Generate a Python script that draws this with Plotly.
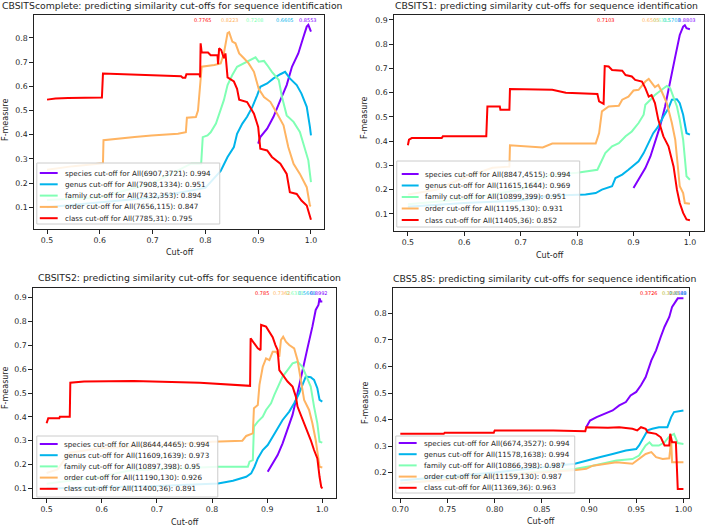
import plotly.graph_objects as go

W, H = 709, 527

# ---------------- data ----------------
SERIES = ["species", "genus", "family", "order", "class"]
COLORS = ["#8000ff", "#00b4eb", "#80ffb4", "#ffb462", "#ff0000"]

TITLES = [
    "CBSITScomplete: predicting similarity cut-offs for sequence identification",
    "CBSITS1: predicting similarity cut-offs for sequence identification",
    "CBSITS2: predicting similarity cut-offs for sequence identification",
    "CBS5.8S: predicting similarity cut-offs for sequence identification",
]

LEG1 = ["species cut-off for All(6907,3721): 0.994", "genus cut-off for All(7908,1334): 0.951",
        "family cut-off for All(7432,353): 0.894", "order cut-off for All(7656,115): 0.847",
        "class cut-off for All(7785,31): 0.795"]
LEG2 = ["species cut-off for All(8847,4515): 0.994", "genus cut-off for All(11615,1644): 0.969",
        "family cut-off for All(10899,399): 0.951", "order cut-off for All(11195,130): 0.931",
        "class cut-off for All(11405,36): 0.852"]
LEG3 = ["species cut-off for All(8644,4465): 0.994", "genus cut-off for All(11609,1639): 0.973",
        "family cut-off for All(10897,398): 0.95", "order cut-off for All(11190,130): 0.926",
        "class cut-off for All(11400,36): 0.891"]
LEG4 = ["species cut-off for All(6674,3527): 0.994", "genus cut-off for All(11578,1638): 0.994",
        "family cut-off for All(10866,398): 0.987", "order cut-off for All(11159,130): 0.987",
        "class cut-off for All(11369,36): 0.963"]

# best cut-off and max F-measure (labels at top)
BEST_X1 = [0.994, 0.951, 0.894, 0.847, 0.795]
BEST_F1 = ["0.8553", "0.6605", "0.7208", "0.8223", "0.7765"]
BEST_X2 = [0.994, 0.969, 0.951, 0.931, 0.852]
BEST_F2 = ["0.8803", "0.5703", "0.6315", "0.6505", "0.7103"]
BEST_X3 = [0.994, 0.973, 0.95, 0.926, 0.891]
BEST_F3 = ["0.8992", "0.5668", "0.6313", "0.7362", "0.785"]
BEST_X4 = [0.994, 0.994, 0.987, 0.987, 0.963]
BEST_F4 = ["0.8589", "0.4348", "0.3469", "0.3203", "0.3726"]

# ---- panel 1: CBSITScomplete ----
P1_SPECIES_X = [0.9, 0.904, 0.917, 0.929, 0.942, 0.954, 0.964, 0.976, 0.986, 0.992, 0.995, 0.998, 1.0]
P1_SPECIES_Y = [0.363, 0.39, 0.425, 0.474, 0.543, 0.605, 0.681, 0.736, 0.806, 0.847, 0.854, 0.84, 0.826]
P1_GENUS_X = [0.5, 0.6, 0.7, 0.8, 0.829, 0.842, 0.854, 0.86, 0.87, 0.879, 0.889, 0.898, 0.904, 0.917,
              0.929, 0.942, 0.951, 0.96, 0.973, 0.982, 0.992, 0.998, 1.0]
P1_GENUS_Y = [0.1, 0.12, 0.14, 0.18, 0.25, 0.308, 0.349, 0.404, 0.446, 0.474, 0.515, 0.563, 0.598, 0.612,
              0.633, 0.65, 0.66, 0.633, 0.605, 0.57, 0.515, 0.432, 0.397]
P1_FAMILY_X = [0.5, 0.6, 0.7, 0.773, 0.792, 0.795, 0.804, 0.81, 0.82, 0.829, 0.835, 0.842, 0.851, 0.86,
               0.873, 0.885, 0.895, 0.901, 0.911, 0.917, 0.926, 0.939, 0.945, 0.954, 0.967, 0.979,
               0.988, 0.995, 1.0]
P1_FAMILY_Y = [0.13, 0.14, 0.2, 0.28, 0.28, 0.39, 0.397, 0.41, 0.446, 0.5, 0.543, 0.605, 0.647, 0.681,
               0.695, 0.709, 0.72, 0.702, 0.705, 0.688, 0.66, 0.626, 0.557, 0.48, 0.453, 0.411,
               0.349, 0.294, 0.204]
P1_ORDER_X = [0.5, 0.55, 0.606, 0.607, 0.666, 0.698, 0.748, 0.763, 0.765, 0.782, 0.786, 0.79, 0.793,
              0.817, 0.829, 0.835, 0.842, 0.845, 0.851, 0.857, 0.864, 0.873, 0.882, 0.892, 0.901,
              0.911, 0.923, 0.936, 0.948, 0.957, 0.967, 0.979, 0.992, 0.998, 1.0]
P1_ORDER_Y = [0.255, 0.27, 0.282, 0.377, 0.39, 0.397, 0.404, 0.41, 0.47, 0.473, 0.5, 0.619, 0.681,
              0.688, 0.695, 0.736, 0.82, 0.824, 0.785, 0.778, 0.736, 0.716, 0.695, 0.66, 0.59,
              0.556, 0.536, 0.487, 0.439, 0.349, 0.28, 0.238, 0.183, 0.107, 0.105]
P1_CLASS_X = [0.5, 0.516, 0.54, 0.573, 0.604, 0.606, 0.698, 0.754, 0.757, 0.762, 0.764, 0.789, 0.79,
              0.791, 0.793, 0.805, 0.81, 0.823, 0.824, 0.826, 0.83, 0.835, 0.838, 0.842, 0.854,
              0.86, 0.864, 0.879, 0.892, 0.9, 0.904, 0.917, 0.926, 0.942, 0.954, 0.96, 0.973,
              0.982, 0.992, 0.998, 1.0]
P1_CLASS_Y = [0.545, 0.55, 0.552, 0.554, 0.554, 0.653, 0.648, 0.642, 0.636, 0.636, 0.65, 0.65, 0.637,
              0.778, 0.74, 0.74, 0.729, 0.729, 0.692, 0.757, 0.75, 0.716, 0.736, 0.637, 0.62,
              0.59, 0.545, 0.535, 0.487, 0.432, 0.342, 0.335, 0.308, 0.28, 0.238, 0.162, 0.155,
              0.128, 0.107, 0.059, 0.048]

# ---- panel 2: CBSITS1 ----
P2_SPECIES_X = [0.9, 0.909, 0.921, 0.93, 0.938, 0.947, 0.956, 0.965, 0.974, 0.982, 0.988, 0.991, 0.994, 1.0]
P2_SPECIES_Y = [0.207, 0.241, 0.289, 0.337, 0.392, 0.461, 0.543, 0.639, 0.749, 0.838, 0.873, 0.878, 0.866, 0.862]
P2_GENUS_X = [0.5, 0.6, 0.7, 0.75, 0.815, 0.833, 0.844, 0.862, 0.868, 0.88, 0.891, 0.903, 0.909, 0.918,
              0.927, 0.935, 0.944, 0.953, 0.962, 0.968, 0.977, 0.982, 0.988, 0.994, 1.0]
P2_GENUS_Y = [0.13, 0.145, 0.155, 0.175, 0.18, 0.186, 0.2, 0.214, 0.248, 0.262, 0.282, 0.303, 0.317, 0.351,
              0.392, 0.433, 0.461, 0.502, 0.536, 0.571, 0.573, 0.557, 0.509, 0.433, 0.427]
P2_FAMILY_X = [0.5, 0.6, 0.7, 0.75, 0.8, 0.836, 0.85, 0.862, 0.874, 0.886, 0.897, 0.909, 0.918, 0.921,
               0.93, 0.938, 0.95, 0.959, 0.965, 0.971, 0.977, 0.982, 0.988, 0.994, 1.0]
P2_FAMILY_Y = [0.14, 0.16, 0.2, 0.26, 0.27, 0.282, 0.351, 0.379, 0.392, 0.42, 0.44, 0.475, 0.509, 0.55,
               0.571, 0.591, 0.612, 0.628, 0.619, 0.584, 0.543, 0.488, 0.406, 0.255, 0.241]
P2_ORDER_X = [0.5, 0.55, 0.6, 0.64, 0.65, 0.68, 0.681, 0.739, 0.756, 0.833, 0.839, 0.844, 0.856, 0.874,
              0.88, 0.891, 0.9, 0.909, 0.921, 0.927, 0.933, 0.938, 0.944, 0.95, 0.959, 0.968, 0.974,
              0.979, 0.982, 0.988, 0.991, 1.0]
P2_ORDER_Y = [0.18, 0.2, 0.25, 0.28, 0.29, 0.295, 0.383, 0.374, 0.39, 0.39, 0.433, 0.523, 0.543, 0.546,
              0.571, 0.584, 0.609, 0.612, 0.646, 0.657, 0.639, 0.623, 0.632, 0.605, 0.557, 0.475, 0.406,
              0.296, 0.214, 0.186, 0.145, 0.142]
P2_CLASS_X = [0.5, 0.502, 0.507, 0.56, 0.562, 0.639, 0.641, 0.663, 0.664, 0.68, 0.681, 0.756, 0.78,
              0.815, 0.836, 0.839, 0.847, 0.849, 0.856, 0.862, 0.88, 0.886, 0.897, 0.903, 0.915,
              0.921, 0.927, 0.932, 0.938, 0.944, 0.953, 0.962, 0.971, 0.977, 0.982, 0.988, 0.994, 1.0]
P2_CLASS_Y = [0.383, 0.406, 0.413, 0.413, 0.42, 0.42, 0.543, 0.543, 0.53, 0.53, 0.615, 0.612, 0.6,
              0.598, 0.595, 0.564, 0.554, 0.71, 0.708, 0.694, 0.691, 0.673, 0.667, 0.653, 0.646,
              0.619, 0.584, 0.59, 0.557, 0.488, 0.42, 0.379, 0.296, 0.2, 0.145, 0.104, 0.077, 0.074]

# ---- panel 3: CBSITS2 ----
P3_SPECIES_X = [0.901, 0.91, 0.919, 0.928, 0.937, 0.946, 0.955, 0.964, 0.973, 0.982, 0.988, 0.993, 0.995, 0.997, 1.0]
P3_SPECIES_Y = [0.17, 0.205, 0.24, 0.289, 0.345, 0.408, 0.499, 0.597, 0.687, 0.778, 0.848, 0.869, 0.897, 0.883, 0.883]
P3_GENUS_X = [0.5, 0.7, 0.811, 0.838, 0.862, 0.871, 0.877, 0.883, 0.892, 0.901, 0.91, 0.919, 0.928,
              0.94, 0.949, 0.958, 0.964, 0.97, 0.979, 0.985, 0.991, 0.995, 1.0]
P3_GENUS_Y = [0.1, 0.11, 0.121, 0.132, 0.149, 0.163, 0.191, 0.226, 0.261, 0.282, 0.317, 0.352, 0.387,
              0.422, 0.457, 0.499, 0.534, 0.569, 0.566, 0.555, 0.52, 0.471, 0.464]
P3_FAMILY_X = [0.5, 0.6, 0.65, 0.75, 0.81, 0.865, 0.868, 0.874, 0.876, 0.883, 0.892, 0.898, 0.907,
               0.913, 0.922, 0.928, 0.937, 0.946, 0.955, 0.964, 0.97, 0.979, 0.985, 0.991, 0.995, 1.0]
P3_FAMILY_Y = [0.12, 0.15, 0.175, 0.185, 0.191, 0.191, 0.212, 0.219, 0.359, 0.38, 0.401, 0.429, 0.457,
               0.492, 0.534, 0.569, 0.596, 0.624, 0.631, 0.61, 0.576, 0.527, 0.443, 0.373, 0.296, 0.292]
P3_ORDER_X = [0.5, 0.52, 0.541, 0.6, 0.7, 0.8, 0.855, 0.862, 0.874, 0.876, 0.883, 0.886, 0.892, 0.898,
              0.904, 0.91, 0.916, 0.922, 0.925, 0.929, 0.934, 0.94, 0.949, 0.955, 0.961, 0.967,
              0.976, 0.982, 0.988, 0.993, 0.995, 1.0]
P3_ORDER_Y = [0.165, 0.18, 0.25, 0.27, 0.28, 0.296, 0.3, 0.32, 0.331, 0.436, 0.45, 0.534, 0.61, 0.645,
              0.638, 0.673, 0.673, 0.652, 0.722, 0.736, 0.715, 0.701, 0.687, 0.638, 0.555, 0.471,
              0.429, 0.373, 0.303, 0.233, 0.191, 0.188]
P3_CLASS_X = [0.5, 0.503, 0.523, 0.524, 0.542, 0.543, 0.568, 0.658, 0.778, 0.85, 0.869, 0.87, 0.877,
              0.883, 0.888, 0.889, 0.898, 0.904, 0.91, 0.915, 0.919, 0.922, 0.928, 0.937, 0.946,
              0.952, 0.955, 0.961, 0.97, 0.979, 0.985, 0.991, 0.995, 0.998, 1.0]
P3_CLASS_Y = [0.373, 0.394, 0.394, 0.4, 0.4, 0.543, 0.548, 0.55, 0.543, 0.534, 0.53, 0.729, 0.708,
              0.687, 0.68, 0.785, 0.778, 0.757, 0.734, 0.701, 0.68, 0.596, 0.576, 0.548, 0.527,
              0.485, 0.443, 0.408, 0.359, 0.303, 0.261, 0.226, 0.149, 0.107, 0.1]

# ---- panel 4: CBS5.8S ----
P4_SPECIES_X = [0.897, 0.901, 0.908, 0.918, 0.925, 0.932, 0.939, 0.944, 0.95, 0.955, 0.96, 0.966,
                0.971, 0.976, 0.98, 0.985, 0.988, 0.994, 1.0]
P4_SPECIES_Y = [0.371, 0.396, 0.409, 0.422, 0.434, 0.453, 0.466, 0.491, 0.504, 0.529, 0.56, 0.623,
                0.661, 0.712, 0.75, 0.787, 0.825, 0.857, 0.857]
P4_GENUS_X = [0.7, 0.8, 0.885, 0.897, 0.911, 0.925, 0.939, 0.95, 0.953, 0.959, 0.962, 0.967, 0.974,
              0.983, 0.987, 0.99, 0.995, 1.0]
P4_GENUS_Y = [0.17, 0.2, 0.233, 0.245, 0.258, 0.27, 0.283, 0.289, 0.302, 0.34, 0.359, 0.365, 0.371,
              0.371, 0.409, 0.428, 0.432, 0.434]
P4_FAMILY_X = [0.7, 0.8, 0.886, 0.904, 0.929, 0.946, 0.953, 0.96, 0.964, 0.967, 0.974, 0.98, 0.985,
               0.99, 0.994, 1.0]
P4_FAMILY_Y = [0.16, 0.19, 0.214, 0.226, 0.245, 0.251, 0.264, 0.302, 0.314, 0.302, 0.302, 0.314, 0.336,
               0.346, 0.311, 0.308]
P4_ORDER_X = [0.7, 0.8, 0.85, 0.886, 0.897, 0.904, 0.918, 0.929, 0.946, 0.953, 0.96, 0.966, 0.971,
              0.978, 0.985, 0.987, 0.988, 1.0]
P4_ORDER_Y = [0.16, 0.185, 0.2, 0.21, 0.214, 0.226, 0.233, 0.239, 0.233, 0.251, 0.27, 0.277, 0.258,
              0.251, 0.254, 0.321, 0.239, 0.239]
P4_CLASS_X = [0.7, 0.746, 0.747, 0.799, 0.8, 0.862, 0.896, 0.897, 0.92, 0.932, 0.946, 0.951, 0.955,
              0.96, 0.962, 0.971, 0.976, 0.98, 0.985, 0.986, 0.987, 0.988, 0.992, 0.994, 1.0]
P4_CLASS_Y = [0.346, 0.346, 0.35, 0.35, 0.359, 0.359, 0.356, 0.371, 0.369, 0.371, 0.365, 0.359, 0.371,
              0.365, 0.352, 0.346, 0.333, 0.302, 0.302, 0.346, 0.33, 0.314, 0.314, 0.138, 0.138]

PANELS = [
    dict(xs=[P1_SPECIES_X, P1_GENUS_X, P1_FAMILY_X, P1_ORDER_X, P1_CLASS_X],
         ys=[P1_SPECIES_Y, P1_GENUS_Y, P1_FAMILY_Y, P1_ORDER_Y, P1_CLASS_Y],
         leg=LEG1, bx=BEST_X1, bf=BEST_F1),
    dict(xs=[P2_SPECIES_X, P2_GENUS_X, P2_FAMILY_X, P2_ORDER_X, P2_CLASS_X],
         ys=[P2_SPECIES_Y, P2_GENUS_Y, P2_FAMILY_Y, P2_ORDER_Y, P2_CLASS_Y],
         leg=LEG2, bx=BEST_X2, bf=BEST_F2),
    dict(xs=[P3_SPECIES_X, P3_GENUS_X, P3_FAMILY_X, P3_ORDER_X, P3_CLASS_X],
         ys=[P3_SPECIES_Y, P3_GENUS_Y, P3_FAMILY_Y, P3_ORDER_Y, P3_CLASS_Y],
         leg=LEG3, bx=BEST_X3, bf=BEST_F3),
    dict(xs=[P4_SPECIES_X, P4_GENUS_X, P4_FAMILY_X, P4_ORDER_X, P4_CLASS_X],
         ys=[P4_SPECIES_Y, P4_GENUS_Y, P4_FAMILY_Y, P4_ORDER_Y, P4_CLASS_Y],
         leg=LEG4, bx=BEST_X4, bf=BEST_F4),
]

# ---------------- layout (pixel geometry) ----------------
def px(x):
    return x / W

def py(y):
    return 1 - y / H

BOX = [(33, 325, 15, 229), (395, 707, 15, 231), (32, 337, 288, 498), (394, 692, 288, 498)]
XR = [[0.475, 1.025], [0.475, 1.025], [0.475, 1.025], [0.692, 1.006]]
YR = [[0.01, 0.895], [0.0295, 0.9205], [0.06, 0.94], [0.104, 0.896]]
XT = [[0.5, 0.6, 0.7, 0.8, 0.9, 1.0]] * 3 + [[0.70, 0.75, 0.80, 0.85, 0.90, 0.95, 1.00]]
XFMT = [".1f", ".1f", ".1f", ".2f"]
YT = [[0.1, 0.2, 0.3, 0.4, 0.5, 0.6, 0.7, 0.8],
      [0.1, 0.2, 0.3, 0.4, 0.5, 0.6, 0.7, 0.8, 0.9],
      [0.1, 0.2, 0.3, 0.4, 0.5, 0.6, 0.7, 0.8, 0.9],
      [0.1, 0.2, 0.3, 0.4, 0.5, 0.6, 0.7, 0.8]]
TITLE_POS = [(172, 5), (549, 5), (190, 277), (547, 278)]
XLAB_POS = [(180, 252), (552, 255), (185, 522), (543, 521)]
YLAB_POS = [(5, 120), (366, 118), (4, 388), (366, 403)]
# legend box (x0, x1, y0, y1), line x0, x1, text x, first row y, row step
LEG_POS = [(36, 220, 163, 224, 39, 57, 62, 173, 11.3),
           (398, 582, 161, 227, 403, 420, 424, 174, 11.5),
           (36, 218, 436, 497, 39, 57, 61, 444, 11.2),
           (397, 577, 436, 493, 400, 418, 423, 443, 11.2)]

FONT = "DejaVu Sans"
TXT = "#262626"

fig = go.Figure()
shapes = []
annotations = []
layout = dict(width=W, height=H, margin=dict(l=0, r=0, t=0, b=0),
              paper_bgcolor="white", plot_bgcolor="white", showlegend=False,
              font=dict(family=FONT, size=7.8, color=TXT))

for i, p in enumerate(PANELS):
    k = "" if i == 0 else str(i + 1)
    xa, ya = "x" + k, "y" + k
    for s in range(5):
        fig.add_trace(go.Scatter(x=p["xs"][s], y=p["ys"][s], mode="lines", name=SERIES[s],
                                 line=dict(color=COLORS[s], width=2), xaxis=xa, yaxis=ya))
    x0, x1, y0, y1 = BOX[i]
    axis_common = dict(showline=True, mirror=True, linecolor="#222", linewidth=1,
                       ticks="outside", ticklen=3.5, tickwidth=0.8, tickcolor="#222",
                       showgrid=False, zeroline=False, tickfont=dict(size=7.8, color=TXT))
    layout["xaxis" + k] = dict(axis_common, domain=[px(x0), px(x1)], range=XR[i], anchor=ya,
                               tickvals=XT[i], tickformat=XFMT[i])
    layout["yaxis" + k] = dict(axis_common, domain=[py(y1), py(y0)], range=YR[i], anchor=xa,
                               tickvals=YT[i], tickformat=".1f")
    # title, axis labels
    tx, ty = TITLE_POS[i]
    annotations.append(dict(text=TITLES[i], x=px(tx), y=py(ty), xref="paper", yref="paper",
                            showarrow=False, xanchor="center", yanchor="middle",
                            font=dict(size=9.3, color=TXT)))
    lx, ly = XLAB_POS[i]
    annotations.append(dict(text="Cut-off", x=px(lx), y=py(ly), xref="paper", yref="paper",
                            showarrow=False, xanchor="center", yanchor="middle",
                            font=dict(size=8.0, color=TXT)))
    fx, fy = YLAB_POS[i]
    annotations.append(dict(text="F-measure", x=px(fx), y=py(fy), xref="paper", yref="paper",
                            showarrow=False, xanchor="center", yanchor="middle", textangle=-90,
                            font=dict(size=8.0, color=TXT)))
    # best value labels
    ytop = max(p["ys"][0]) + 0.02
    for s in range(5):
        annotations.append(dict(text=p["bf"][s], x=p["bx"][s], y=ytop, xref=xa, yref=ya,
                                showarrow=False, xanchor="center", yanchor="middle",
                                font=dict(size=5, color=COLORS[s])))
    # legend (drawn manually to match compact matplotlib legend)
    bx0, bx1, by0, by1, lx0, lx1, ttx, ry0, rstep = LEG_POS[i]
    shapes.append(dict(type="rect", xref="paper", yref="paper", x0=px(bx0), x1=px(bx1),
                       y0=py(by1), y1=py(by0), fillcolor="rgba(255,255,255,0.85)",
                       line=dict(color="#cccccc", width=1), layer="above"))
    for s in range(5):
        yy = ry0 + rstep * s
        shapes.append(dict(type="line", xref="paper", yref="paper", x0=px(lx0), x1=px(lx1),
                           y0=py(yy), y1=py(yy), line=dict(color=COLORS[s], width=2), layer="above"))
        annotations.append(dict(text=p["leg"][s], x=px(ttx), y=py(yy), xref="paper", yref="paper",
                                showarrow=False, xanchor="left", yanchor="middle",
                                font=dict(size=7.2, color=TXT)))

layout["shapes"] = shapes
layout["annotations"] = annotations
fig.update_layout(**layout)
fig.write_html("out.html", config={"displayModeBar": False},
               post_script="document.body.style.margin='0';document.body.style.overflow='hidden';")
